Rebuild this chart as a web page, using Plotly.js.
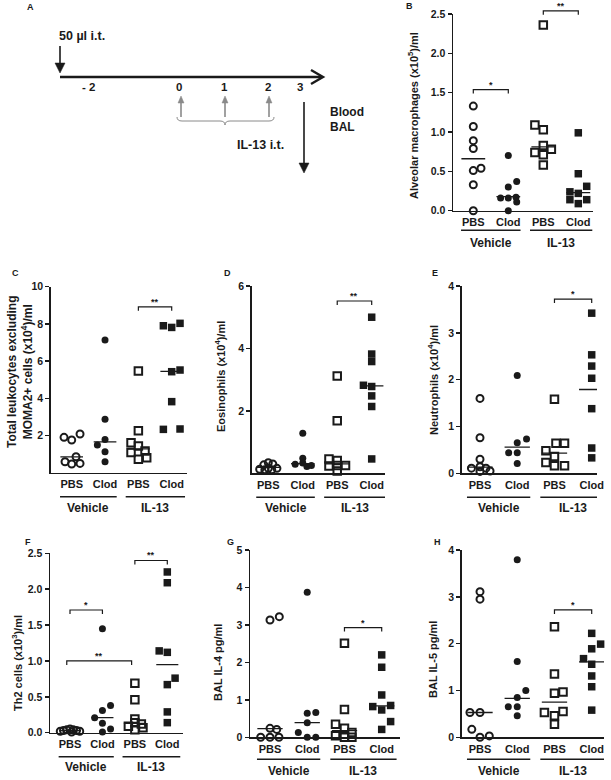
<!DOCTYPE html>
<html><head><meta charset="utf-8">
<script src="https://cdn.plot.ly/plotly-3.0.1.min.js"></script>
<style>html,body{margin:0;padding:0;background:#fff}#chart{width:611px;height:780px}</style>
</head><body><div id="chart"></div>
<script>
// ---------- DATA ----------
const categories = ['PBS','Clod','PBS','Clod'];
const groupLabels = ['Vehicle','IL-13'];

// Panel B: Alveolar macrophages (x10^5)/ml
const B_vehPBS = [1.33,1.07,0.89,0.79,0.51,0.54,0.33,0.0];
const B_vehPBS_dx = [0,0,0,0,0,0.22,0,0];
const B_vehClod = [0.70,0.37,0.30,0.16,0.16,0.17,0.11,0.0];
const B_vehClod_dx = [0,0.24,0,-0.22,0,0.22,0.24,0];
const B_il13PBS = [2.36,1.09,1.03,0.83,0.78,0.74,0.71,0.58];
const B_il13PBS_dx = [0,-0.24,0,0,0.23,-0.24,0,0];
const B_il13Clod = [0.99,0.47,0.31,0.24,0.22,0.14,0.14,0.09];
const B_il13Clod_dx = [0,0,0.24,-0.24,0,-0.24,0.24,0];
const B_medians = [0.66,0.18,0.81,0.23];
const B_sig = [[0,1,1.54,'*'],[2,3,2.54,'**']];

// Panel C: Total leukocytes excluding MOMA2+ cells (x10^4)/ml
const C_vehPBS = [1.90,1.76,2.08,0.86,0.59,0.47,0.50];
const C_vehPBS_dx = [-0.23,0,0.25,0.13,-0.2,0,0.25];
const C_vehClod = [7.13,2.87,1.79,1.49,1.13,0.59];
const C_vehClod_dx = [0,0,0,-0.23,0,0];
const C_il13PBS = [5.47,2.26,1.61,1.43,1.16,1.08,0.81,0.72];
const C_il13PBS_dx = [0,0,-0.22,0,0.2,-0.22,0.25,0];
const C_il13Clod = [7.90,7.81,8.03,5.43,5.52,3.82,2.33,2.35];
const C_il13Clod_dx = [-0.25,0,0.25,0,0.25,0,-0.25,0.25];
const C_medians = [0.85,1.66,1.28,5.45];
const C_sig = [[2,3,8.92,'**']];

// Panel D: Eosinophils (x10^4)/ml
const D_vehPBS = [0.13,0.27,0.34,0.30,0.16,0.11,0.11,0.16];
const D_vehPBS_dx = [-0.25,-0.13,0,0.13,0.25,-0.1,0.1,0];
const D_vehClod = [1.28,0.48,0.29,0.33,0.22,0.25];
const D_vehClod_dx = [0,0,-0.22,0,0.12,0.25];
const D_il13PBS = [3.12,1.68,0.46,0.41,0.23,0.25,0.25,0.07];
const D_il13PBS_dx = [0,0,-0.24,0,-0.24,0,0.24,0];
const D_il13Clod = [5.0,3.82,3.58,2.82,2.78,2.48,2.14,0.46];
const D_il13Clod_dx = [0,0,0,-0.24,0,0,0,0];
const D_medians = [0.19,0.31,0.30,2.80];
const D_sig = [[2,3,5.52,'**']];

// Panel E: Neutrophils (x10^4)/ml
const E_vehPBS = [1.60,0.76,0.30,0.11,0.14,0.11,0.04,0.05];
const E_vehPBS_dx = [0,0,0,-0.23,0,0.16,0,0.27];
const E_vehClod = [2.09,0.65,0.73,0.44,0.44,0.21];
const E_vehClod_dx = [0,0,0.25,-0.23,0,0];
const E_il13PBS = [1.58,0.64,0.64,0.48,0.36,0.23,0.16,0.16];
const E_il13PBS_dx = [0,0.04,0.27,-0.23,0,-0.23,0,0.27];
const E_il13Clod = [3.42,2.53,2.29,2.03,1.51,1.38,0.54,0.33];
const E_il13Clod_dx = [0,0,0,0,0.23,0,0,0];
const E_medians = [0.13,0.56,0.43,1.79];
const E_sig = [[2,3,3.72,'*']];

// Panel F: Th2 cells (x10^3)/ml
const F_vehPBS = [0.02,0.03,0.04,0.05,0.04,0.03,0.02,0.01];
const F_vehPBS_dx = [-0.3,-0.2,-0.1,0,0.1,0.2,0.3,0.05];
const F_vehClod = [1.45,0.38,0.31,0.21,0.13,0.05,0.01];
const F_vehClod_dx = [0,0.25,0,-0.24,0,0.25,0];
const F_il13PBS = [0.69,0.46,0.19,0.14,0.12,0.09,0.07,0.04];
const F_il13PBS_dx = [0,0,0,0,0.2,-0.2,0.25,0];
const F_il13Clod = [2.24,2.09,1.14,1.12,0.76,0.67,0.29,0.14];
const F_il13Clod_dx = [0,0,-0.25,0,0.24,0,0,0];
const F_medians = [0.03,0.21,0.13,0.95];
const F_sig = [[0,1,1.71,'*'],[-0.1,1.9,1.00,'**'],[2,3,2.40,'**']];

// Panel G: BAL IL-4 pg/ml
const G_vehPBS = [3.13,3.22,0.24,0.21,0,0,0];
const G_vehPBS_dx = [0,0.25,0,0.18,-0.25,0,0.24];
const G_vehClod = [3.87,0.64,0.66,0.39,0.13,0,0];
const G_vehClod_dx = [0,0,0.23,0,-0.24,0,0.23];
const G_il13PBS = [2.51,0.74,0.35,0.24,0.13,0.04,0,0];
const G_il13PBS_dx = [0,0,-0.24,0,0.2,-0.24,0,0.2];
const G_il13Clod = [2.20,1.87,1.13,0.82,0.73,0.85,0.42,0.21];
const G_il13Clod_dx = [0,0,0,-0.24,0,0.24,0.24,0];
const G_medians = [0.23,0.39,0.18,0.84];
const G_sig = [[2,3,2.93,'*']];

// Panel H: BAL IL-5 pg/ml
const H_vehPBS = [3.11,2.95,0.53,0.53,0.17,0,0.03];
const H_vehPBS_dx = [0,0,-0.27,0,-0.22,0,0.25];
const H_vehClod = [3.79,1.62,1.0,0.85,0.65,0.65,0.46];
const H_vehClod_dx = [0,0,0.23,0,-0.24,0,0];
const H_il13PBS = [2.36,1.35,0.94,0.97,0.53,0.55,0.46,0.28];
const H_il13PBS_dx = [0,0,0,0.23,-0.27,0.23,0,0];
const H_il13Clod = [2.22,1.99,1.89,1.68,1.56,1.31,1.08,0.58];
const H_il13Clod_dx = [0,0.24,0,-0.22,0,0,0,0];
const H_medians = [0.53,0.83,0.75,1.61];
const H_sig = [[2,3,2.72,'*']];

// ---------- LAYOUT / DRAWING ----------
const W = 611, Hh = 780;
const PX = x => x / W, PY = y => 1 - y / Hh;
const FONT = 'Arial, "Liberation Sans", sans-serif';
const INK = '#1a1a1a';
const symbols = ['circle-open','circle','square-open','square'];

const panels = [
  {letter:'B', L:[404,6], vals:[B_vehPBS,B_vehClod,B_il13PBS,B_il13Clod], dx:[B_vehPBS_dx,B_vehClod_dx,B_il13PBS_dx,B_il13Clod_dx], med:B_medians, sig:B_sig,
   yr:[0,2.5], tv:[0,0.5,1,1.5,2,2.5], fmt:'.1f', box:{l:453,r:593,t:14,b:210.7}, c0:473.3, c3:578.3,
   title:'Alveolar macrophages (x10<sup>5</sup>)/ml', tsize:11, tpos:[413,116], uo:19.5, go:32},
  {letter:'C', L:[10,273], vals:[C_vehPBS,C_vehClod,C_il13PBS,C_il13Clod], dx:[C_vehPBS_dx,C_vehClod_dx,C_il13PBS_dx,C_il13Clod_dx], med:C_medians, sig:C_sig,
   yr:[0,10], tv:[2,4,6,8,10], fmt:'d', box:{l:50.7,r:187,t:286.7,b:472.7}, c0:71.7, c3:171.7,
   title:'Total leukocytes excluding<br>MOMA2+ cells (x10<sup>4</sup>)/ml', tsize:12, tpos:[20,372], uo:24, go:35},
  {letter:'D', L:[222,273], vals:[D_vehPBS,D_vehClod,D_il13PBS,D_il13Clod], dx:[D_vehPBS_dx,D_vehClod_dx,D_il13PBS_dx,D_il13Clod_dx], med:D_medians, sig:D_sig,
   yr:[0,6], tv:[2,4,6], fmt:'d', box:{l:251.7,r:385,t:286,b:473.3}, c0:268.3, c3:371.7,
   title:'Eosinophils (x10<sup>4</sup>)/ml', tsize:11, tpos:[220,377], uo:24, go:35},
  {letter:'E', L:[430,273], vals:[E_vehPBS,E_vehClod,E_il13PBS,E_il13Clod], dx:[E_vehPBS_dx,E_vehClod_dx,E_il13PBS_dx,E_il13Clod_dx], med:E_medians, sig:E_sig,
   yr:[0,4], tv:[0,1,2,3,4], fmt:'d', box:{l:461.7,r:597,t:286,b:473.3}, c0:480, c3:591.7,
   title:'Neutrophils (x10<sup>4</sup>)/ml', tsize:11, tpos:[433,380], uo:24, go:35},
  {letter:'F', L:[23,542], vals:[F_vehPBS,F_vehClod,F_il13PBS,F_il13Clod], dx:[F_vehPBS_dx,F_vehClod_dx,F_il13PBS_dx,F_il13Clod_dx], med:F_medians, sig:F_sig,
   yr:[0,2.5], tv:[0,0.5,1,1.5,2,2.5], fmt:'.1f', box:{l:50,r:183,t:553.3,b:732.7}, c0:70, c3:167.3,
   title:'Th2 cells (x10<sup>3</sup>)/ml', tsize:11, tpos:[17,663], uo:24, go:34},
  {letter:'G', L:[225,542], vals:[G_vehPBS,G_vehClod,G_il13PBS,G_il13Clod], dx:[G_vehPBS_dx,G_vehClod_dx,G_il13PBS_dx,G_il13Clod_dx], med:G_medians, sig:G_sig,
   yr:[0,5], tv:[0,1,2,3,4,5], fmt:'d', box:{l:250,r:400,t:550,b:737.3}, c0:270, c3:381.7,
   title:'BAL IL-4 pg/ml', tsize:11, tpos:[218,663], uo:22, go:34},
  {letter:'H', L:[432,542], vals:[H_vehPBS,H_vehClod,H_il13PBS,H_il13Clod], dx:[H_vehPBS_dx,H_vehClod_dx,H_il13PBS_dx,H_il13Clod_dx], med:H_medians, sig:H_sig,
   yr:[0,4], tv:[0,1,2,3,4], fmt:'d', box:{l:461.7,r:604,t:550,b:737.3}, c0:480, c3:591.7,
   title:'BAL IL-5 pg/ml', tsize:11, tpos:[433,660], uo:22, go:34}
];

const traces = [];
const layout = {
  width: W, height: Hh, margin:{l:0,r:0,t:0,b:0},
  paper_bgcolor:'#fff', plot_bgcolor:'rgba(0,0,0,0)', showlegend:false,
  font:{family:FONT, color:INK},
  shapes:[], annotations:[]
};

panels.forEach((p, i) => {
  const n = i + 1;
  const xa = n === 1 ? 'x' : 'x' + n, ya = n === 1 ? 'y' : 'y' + n;
  const xk = n === 1 ? 'xaxis' : 'xaxis' + n, yk = n === 1 ? 'yaxis' : 'yaxis' + n;
  const s = (p.c3 - p.c0) / 3;
  const xr = [-(p.c0 - p.box.l) / s, 3 + (p.box.r - p.c3) / s];
  const yd = [PY(p.box.b), PY(p.box.t)];
  layout[xk] = {
    domain:[PX(p.box.l), PX(p.box.r)], range:xr, anchor:ya, fixedrange:true,
    showline:true, linecolor:INK, linewidth:1.5, showgrid:false, zeroline:false,
    tickvals:[0,1,2,3], ticktext:categories, ticks:'', ticklabelstandoff:1,
    tickfont:{family:FONT, size:11, color:INK, weight:'bold'}
  };
  layout[yk] = {
    domain:yd, range:p.yr, anchor:xa, fixedrange:true,
    showline:true, linecolor:INK, linewidth:1.5, showgrid:false, zeroline:false,
    tickvals:p.tv, tickformat:p.fmt, ticks:'outside', ticklen:4, tickwidth:1.5, tickcolor:INK,
    tickfont:{family:FONT, size:10.5, color:INK, weight:'bold'}
  };
  // points
  p.vals.forEach((v, g) => {
    const open = symbols[g].indexOf('open') >= 0;
    const isSq = symbols[g].indexOf('square') >= 0;
    traces.push({
      type:'scatter', mode:'markers', xaxis:xa, yaxis:ya, cliponaxis:false,
      x: v.map((_, k) => g + p.dx[g][k]), y: v,
      marker:{symbol:symbols[g], size: isSq ? 7.5 : 7, color:INK, line:{color:INK, width: open ? 2 : 0}},
      hoverinfo:'skip'
    });
  });
  // median lines
  p.med.forEach((m, g) => {
    traces.push({type:'scatter', mode:'lines', xaxis:xa, yaxis:ya, cliponaxis:false,
      x:[g - 0.34, g + 0.34], y:[m, m], line:{color:INK, width:1.3}, hoverinfo:'skip'});
  });
  // significance brackets (paper y so they may sit above the plot area)
  const toPaper = v => yd[0] + (v - p.yr[0]) / (p.yr[1] - p.yr[0]) * (yd[1] - yd[0]);
  const depthPaper = 4 / Hh;
  p.sig.forEach(([a, b, lev, lab]) => {
    const yp = toPaper(lev);
    layout.shapes.push({type:'path', xref:xa, yref:'paper',
      path:'M ' + a + ',' + (yp - depthPaper) + ' L ' + a + ',' + yp + ' L ' + b + ',' + yp + ' L ' + b + ',' + (yp - depthPaper),
      line:{color:INK, width:1.2}});
    layout.annotations.push({xref:xa, yref:'paper', x:(a + b) / 2, y:yp, text:'<b>' + lab + '</b>',
      showarrow:false, yanchor:'bottom', yshift:-2, font:{family:FONT, size:9, color:INK}});
  });
  // group underline and labels
  const spans = [[-0.35, 1.35], [1.62, 3.4]];
  spans.forEach((sp, g) => {
    layout.shapes.push({type:'line', xref:xa, yref:'paper', x0:sp[0], x1:sp[1],
      y0:PY(p.box.b + p.uo), y1:PY(p.box.b + p.uo), line:{color:INK, width:1.4}});
    layout.annotations.push({xref:xa, yref:'paper', x:(sp[0] + sp[1]) / 2, y:PY(p.box.b + p.go),
      text:'<b>' + groupLabels[g] + '</b>', showarrow:false, yanchor:'middle',
      font:{family:FONT, size:12, color:INK}});
  });
  // y title
  layout.annotations.push({xref:'paper', yref:'paper', x:PX(p.tpos[0]), y:PY(p.tpos[1]),
    text:'<b>' + p.title + '</b>', textangle:-90, showarrow:false, xanchor:'center', yanchor:'middle',
    font:{family:FONT, size:p.tsize, color:INK}});
  // panel letter
  layout.annotations.push({xref:'paper', yref:'paper', x:PX(p.L[0]), y:PY(p.L[1]),
    text:'<b>' + p.letter + '</b>', showarrow:false, xanchor:'left', yanchor:'middle',
    font:{family:FONT, size:9, color:INK}});
});

// ---------- Panel A (timeline schematic) ----------
const path = pts => 'M ' + pts.map(([x, y]) => PX(x) + ',' + PY(y)).join(' L ');
const addLine = (pts, color, w) => layout.shapes.push({type:'path', xref:'paper', yref:'paper', path:path(pts), line:{color, width:w}});
const addTri = (pts, color) => layout.shapes.push({type:'path', xref:'paper', yref:'paper', path:path(pts) + ' Z', fillcolor:color, line:{color, width:0.5}});
const addText = (x, y, t, size, anchor, color) => layout.annotations.push({xref:'paper', yref:'paper', x:PX(x), y:PY(y),
  text:'<b>' + t + '</b>', showarrow:false, xanchor:anchor || 'center', yanchor:'middle', font:{family:FONT, size, color:color || INK}});

addText(25, 7, 'A', 9, 'left');
addText(57, 36, '50 µl i.t.', 12.5, 'left');
addLine([[60, 46], [60, 64]], INK, 1.6);
addTri([[55, 63], [65, 63], [60, 73]], INK);
addLine([[60, 77], [321, 77]], INK, 2.4);
addLine([[311, 70], [323, 77], [311, 84]], INK, 2.4);
const timeLabels = ['- 2', '0', '1', '2', '3'];
const timeX = [88, 179, 224, 268, 300];
timeLabels.forEach((t, k) => addText(timeX[k], 87, t, 11.5));
const GRAY = '#8a8a8a';
[181, 225, 269].forEach(x => {
  addLine([[x, 117], [x, 102]], GRAY, 1.6);
  addTri([[x - 3, 103], [x + 3, 103], [x, 96]], GRAY);
});
layout.shapes.push({type:'path', xref:'paper', yref:'paper', line:{color:GRAY, width:1},
  path:'M ' + PX(177) + ',' + PY(117) + ' Q ' + PX(177) + ',' + PY(121) + ' ' + PX(182) + ',' + PY(121) +
       ' L ' + PX(220) + ',' + PY(121) + ' Q ' + PX(225) + ',' + PY(121) + ' ' + PX(225) + ',' + PY(125) +
       ' Q ' + PX(225) + ',' + PY(121) + ' ' + PX(230) + ',' + PY(121) +
       ' L ' + PX(269) + ',' + PY(121) + ' Q ' + PX(274) + ',' + PY(121) + ' ' + PX(274) + ',' + PY(117)});
addText(260, 145, 'IL-13 i.t.', 12.5);
addLine([[304, 102], [304, 164]], INK, 1.6);
addTri([[299, 163], [309, 163], [304, 173]], INK);
addText(328, 112, 'Blood', 12, 'left');
addText(328, 127, 'BAL', 12, 'left');

Plotly.newPlot('chart', traces, layout, {staticPlot:true, displayModeBar:false});
</script></body></html>
